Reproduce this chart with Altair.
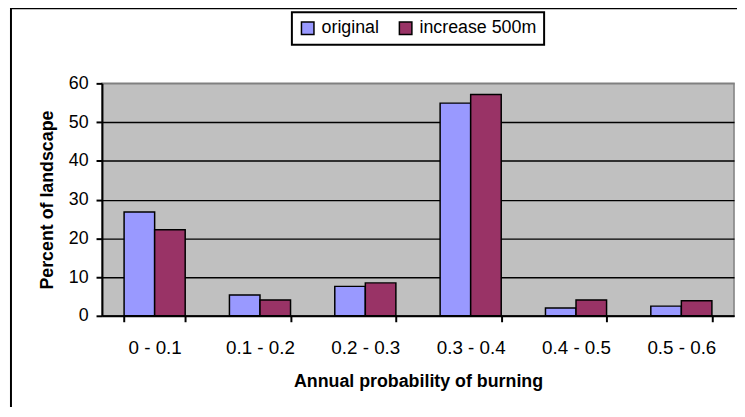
import altair as alt
import pandas as pd

categories = ["0 - 0.1", "0.1 - 0.2", "0.2 - 0.3", "0.3 - 0.4", "0.4 - 0.5", "0.5 - 0.6"]
series = ["original", "increase 500m"]
original = [26.8, 5.4, 7.6, 54.9, 2.0, 2.5]
increase = [22.2, 4.1, 8.5, 57.1, 4.1, 3.9]
colors = ["#9999FF", "#993366"]

rows = []
for c, v in zip(categories, original):
    rows.append({"cat": c, "series": series[0], "value": v})
for c, v in zip(categories, increase):
    rows.append({"cat": c, "series": series[1], "value": v})
df = pd.DataFrame(rows)

FONT = "Liberation Sans"

bars = alt.Chart(df).mark_bar(stroke="black", strokeWidth=1.5).encode(
    x=alt.X("cat:N", sort=categories,
            scale=alt.Scale(paddingInner=0.42, paddingOuter=0.21),
            axis=alt.Axis(title="Annual probability of burning", labelAngle=0,
                          tickBand="extent", grid=False, domainColor="black",
                          domainWidth=2, tickColor="black", tickWidth=2, tickSize=6,
                          labelPadding=17, titlePadding=15, labelFontSize=19,
                          titleFontSize=18, titleFontWeight="bold")),
    xOffset=alt.XOffset("series:N", sort=series),
    y=alt.Y("value:Q", scale=alt.Scale(domain=[0, 60], nice=False),
            axis=alt.Axis(title="Percent of landscape", values=[0, 10, 20, 30, 40, 50, 60],
                          grid=True,
                          gridColor={"condition": {"test": "datum.value === 60", "value": "#808080"}, "value": "black"},
                          gridWidth=1.4, domainColor="black", domainWidth=2,
                          tickColor="black", tickWidth=2, tickSize=6, labelPadding=8,
                          titlePadding=12, labelFontSize=18, titleFontSize=18,
                          titleFontWeight="bold")),
    color=alt.Color("series:N", sort=series,
                    scale=alt.Scale(domain=series, range=colors),
                    legend=alt.Legend(title=None, orient="none", direction="horizontal",
                                      legendX=192, legendY=-72, symbolType="square",
                                      symbolSize=160, symbolStrokeColor="black",
                                      symbolStrokeWidth=1.5, labelFontSize=18,
                                      labelOffset=5, columnPadding=16, padding=7,
                                      strokeColor="black", fillColor="white")),
)

border = alt.Chart(pd.DataFrame({"k": [0]})).mark_rect(
    fill=None, stroke="black", strokeWidth=2, clip=False
).encode(
    x=alt.value(-92), x2=alt.value(900), y=alt.value(-76), y2=alt.value(600)
)

chart = alt.layer(border, bars).properties(
    width=639, height=235,
    autosize=alt.AutoSizeParams(type="none"),
    padding={"left": 95, "top": 74, "right": 3, "bottom": 90},
).configure(font=FONT).configure_view(
    fill="#C0C0C0", stroke="#808080", strokeWidth=1.5
).configure_axis(
    labelColor="black", titleColor="black", labelFont=FONT, titleFont=FONT
).configure_legend(
    strokeWidth=2, labelFont=FONT, labelColor="black"
)

chart.save("out.html", embed_options={"renderer": "svg", "actions": False})
